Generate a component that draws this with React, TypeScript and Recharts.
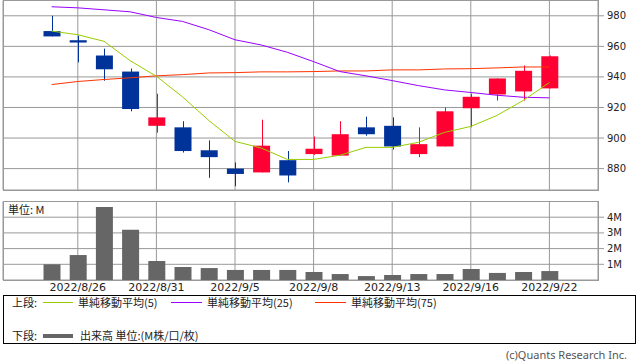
import React from 'react';
import { ComposedChart, Bar, Line, XAxis, YAxis, CartesianGrid } from 'recharts';

const dates = [
  '2022/8/25', '2022/8/26', '2022/8/29', '2022/8/30', '2022/8/31', '2022/9/1', '2022/9/2',
  '2022/9/5', '2022/9/6', '2022/9/7', '2022/9/8', '2022/9/9', '2022/9/12', '2022/9/13',
  '2022/9/14', '2022/9/15', '2022/9/16', '2022/9/20', '2022/9/21', '2022/9/22',
];
const openPrices = [970, 964, 954, 943.5, 908, 907, 892, 880, 877.5, 885.5, 889.5, 888.5, 907, 908, 889.5, 894.5, 919.5, 928.5, 930.5, 932.5];
const closePrices = [966.5, 962.5, 945, 919, 913.5, 891.5, 887.5, 876.5, 895, 875.5, 893, 902.5, 902.5, 894.5, 896, 917.5, 927, 939, 944, 953.5];
const highPrices = [980, 967, 958.5, 945.5, 929, 911, 898.5, 884, 912, 891.5, 901, 911, 914, 913.5, 907, 920, 929, 939, 947.5, 954];
const lowPrices = [966.5, 949.5, 937.5, 917.5, 903.5, 890.5, 874, 868.5, 877.5, 871, 889, 888.5, 901.5, 892.5, 887.5, 894.5, 907, 924.5, 924.5, 932.5];
const ma5 = [970, 967.6, 963.3, 950.6, 940.4, 926.9, 911.5, 897.8, 893.5, 886, 886, 888.7, 893.9, 893.9, 897.2, 903.7, 907.6, 914.8, 924.6, 936.3];
const ma25 = [985.9, 985.2, 983.9, 982.6, 978.9, 976.3, 970.9, 964.3, 960.9, 956.1, 950, 943.5, 940.7, 937.6, 934.3, 931.5, 929.8, 928, 926.7, 926.3];
const ma75 = [935, 937, 938.3, 939.4, 940.7, 941.5, 942.6, 942.8, 943.3, 943.3, 943.5, 943.9, 943.9, 944.6, 944.6, 945.2, 945.4, 945.9, 946.5, 946.5];
const volumeM = [1.0, 1.59, 4.65, 3.2, 1.21, 0.83, 0.76, 0.64, 0.64, 0.64, 0.51, 0.38, 0.25, 0.32, 0.38, 0.38, 0.7, 0.45, 0.51, 0.57];

const tickDates = ['2022/8/26', '2022/8/31', '2022/9/5', '2022/9/8', '2022/9/13', '2022/9/16', '2022/9/22'];
const priceTicks = [880, 900, 920, 940, 960, 980];
const volumeTicks = [1, 2, 3, 4];

const data = dates.map((d, i) => ({
  date: d,
  range: [lowPrices[i], highPrices[i]],
  open: openPrices[i],
  close: closePrices[i],
  high: highPrices[i],
  low: lowPrices[i],
  ma5: ma5[i],
  ma25: ma25[i],
  ma75: ma75[i],
  vol: volumeM[i],
}));

const RED = '#ff0033';
const BLUE = '#003399';
const GRID = '#999999';
const LATIN = '"DejaVu Sans", sans-serif';
const CJK = '"Noto Sans CJK JP", "DejaVu Sans", sans-serif';

const Candle = (props: any) => {
  const { x, y, width, height, payload } = props;
  if (x == null || y == null || !payload) return null;
  const { open, close, high, low } = payload;
  const top = Math.min(y, y + height);
  const h = Math.abs(height);
  const ppu = h / (high - low || 1);
  const bodyTop = top + (high - Math.max(open, close)) * ppu;
  const bodyBot = top + (high - Math.min(open, close)) * ppu;
  const color = close >= open ? RED : BLUE;
  const cx = Math.round(x + width / 2) + 0.5;
  return (
    <g>
      <line x1={cx} x2={cx} y1={top} y2={top + h} stroke={color} strokeWidth={1} />
      <rect x={x} y={bodyTop} width={width} height={Math.max(1, bodyBot - bodyTop)} fill={color} />
    </g>
  );
};

const PAD = { left: 35.5, right: 35.5 };

const abs = (left: number, top: number, extra: any = {}) => ({ position: 'absolute' as const, left, top, ...extra });

export default function App() {
  return (
    <div style={{ position: 'absolute', left: 0, top: 0, width: 638, height: 362, background: '#fff', overflow: 'hidden' }}>
      <div style={abs(0, 0)}>
        <ComposedChart width={638} height={191} data={data} margin={{ top: 0.5, right: 0, left: 3, bottom: 1 }}>
          <CartesianGrid stroke={GRID} strokeWidth={1} />
          <XAxis dataKey="date" hide ticks={tickDates} interval={0} padding={PAD} />
          <YAxis
            orientation="right"
            type="number"
            domain={[866, 990]}
            allowDataOverflow
            ticks={priceTicks}
            interval={0}
            width={40}
            axisLine={false}
            tickLine={{ stroke: GRID }}
            tickSize={6}
            tickMargin={3}
            tick={{ fontSize: 10, fill: '#222', fontFamily: LATIN }}
          />
          <Bar dataKey="range" shape={<Candle />} barSize={17} isAnimationActive={false} />
          <Line type="linear" dataKey="ma75" stroke="#ff3300" strokeWidth={1} dot={false} activeDot={false} isAnimationActive={false} />
          <Line type="linear" dataKey="ma25" stroke="#9900ff" strokeWidth={1} dot={false} activeDot={false} isAnimationActive={false} />
          <Line type="linear" dataKey="ma5" stroke="#99cc00" strokeWidth={1} dot={false} activeDot={false} isAnimationActive={false} />
        </ComposedChart>
      </div>
      <div style={abs(3, 0, { width: 596, height: 191, boxSizing: 'border-box', border: `1px solid ${GRID}`, pointerEvents: 'none' })} />

      <div style={abs(0, 200)}>
        <ComposedChart width={638} height={100} data={data} margin={{ top: 1.5, right: 0, left: 3, bottom: 0 }}>
          <CartesianGrid stroke={GRID} strokeWidth={1} />
          <XAxis
            dataKey="date"
            ticks={tickDates}
            interval={0}
            padding={PAD}
            height={20}
            axisLine={false}
            tickLine={false}
            tickSize={0}
            tickMargin={3}
            tick={{ fontSize: 11, fill: '#222', fontFamily: LATIN }}
          />
          <YAxis
            orientation="right"
            type="number"
            domain={[0, 5]}
            allowDataOverflow
            ticks={volumeTicks}
            interval={0}
            width={40}
            axisLine={false}
            tickLine={{ stroke: GRID }}
            tickSize={6}
            tickMargin={3}
            tickFormatter={(v: number) => `${v}M`}
            tick={{ fontSize: 10, fill: '#222', fontFamily: LATIN }}
          />
          <Bar dataKey="vol" fill="#666666" barSize={17} isAnimationActive={false} />
        </ComposedChart>
      </div>
      <div style={abs(3, 201, { width: 596, height: 80, boxSizing: 'border-box', border: `1px solid ${GRID}`, pointerEvents: 'none' })} />
      <div style={abs(8, 203, { fontFamily: CJK, fontSize: 11, lineHeight: '13px', color: '#222' })}>単位: M</div>

      <div style={abs(3, 295, { width: 633, height: 49, boxSizing: 'border-box', border: '1px solid #000' })} />
      <div style={abs(12, 296, { fontFamily: CJK, fontSize: 11, lineHeight: '13px', color: '#222' })}>上段:</div>
      <div style={abs(43, 302, { width: 30, height: 1, background: '#99cc00' })} />
      <div style={abs(78, 296, { fontFamily: CJK, fontSize: 11, lineHeight: '13px', color: '#222' })}>単純移動平均(5)</div>
      <div style={abs(171, 302, { width: 31, height: 1, background: '#9900ff' })} />
      <div style={abs(207, 296, { fontFamily: CJK, fontSize: 11, lineHeight: '13px', color: '#222' })}>単純移動平均(25)</div>
      <div style={abs(315, 302, { width: 31, height: 1, background: '#ff3300' })} />
      <div style={abs(351, 296, { fontFamily: CJK, fontSize: 11, lineHeight: '13px', color: '#222' })}>単純移動平均(75)</div>
      <div style={abs(12, 329, { fontFamily: CJK, fontSize: 11, lineHeight: '13px', color: '#222' })}>下段:</div>
      <div style={abs(43, 334, { width: 30, height: 4, background: '#666666' })} />
      <div style={abs(80, 329, { fontFamily: CJK, fontSize: 11, lineHeight: '13px', color: '#222' })}>出来高 単位:(M株/口/枚)</div>

      <div style={{ position: 'absolute', right: 11, top: 348, fontFamily: '"Noto Sans", sans-serif', fontSize: 11, lineHeight: '13px', color: '#555' }}>
        (c)Quants Research Inc.
      </div>
    </div>
  );
}
